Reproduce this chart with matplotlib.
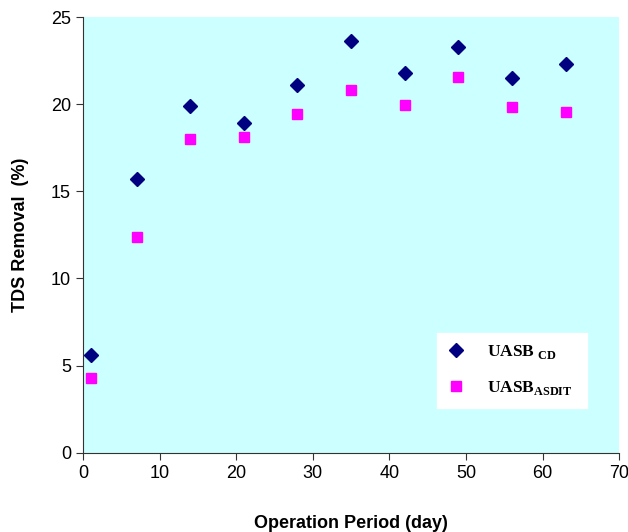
import matplotlib
matplotlib.use('Agg')
import matplotlib.pyplot as plt

plt.rcParams['font.family'] = 'Liberation Sans'
plt.rcParams['mathtext.fontset'] = 'custom'
plt.rcParams['mathtext.bf'] = 'Liberation Serif:bold'
plt.rcParams['mathtext.rm'] = 'Liberation Serif:bold'

days = [1, 7, 14, 21, 28, 35, 42, 49, 56, 63]
uasb_cd = [5.6, 15.7, 19.9, 18.9, 21.1, 23.6, 21.8, 23.3, 21.5, 22.3]
uasb_asdit = [4.3, 12.4, 18.0, 18.1, 19.45, 20.8, 19.95, 21.55, 19.85, 19.55]

fig = plt.figure(figsize=(6.28, 5.32), dpi=100)
ax = fig.add_axes([0.132, 0.149, 0.854, 0.819])
ax.set_facecolor('#ccffff')

ax.plot(days, uasb_cd, 'D', color='#000080', markersize=7, label=r'$\mathbf{UASB}_{\ \mathbf{CD}}$')
ax.plot(days, uasb_asdit, 's', color='#ff00ff', markersize=7.5, label=r'$\mathbf{UASB}_{\mathbf{ASDIT}}$')

ax.set_xlim(0, 70)
ax.set_ylim(0, 25)
ax.set_xticks(range(0, 71, 10))
ax.set_yticks(range(0, 26, 5))

for s in ['top', 'right']:
    ax.spines[s].set_visible(False)
for s in ['left', 'bottom']:
    ax.spines[s].set_color('#333333')
ax.tick_params(direction='out', length=5, color='#333333', labelsize=13)

ax.set_xlabel('Operation Period (day)', fontsize=13, fontweight='bold', labelpad=24)
ax.set_ylabel('TDS Removal  (%)', fontsize=13, fontweight='bold', labelpad=16)

leg = ax.legend(loc='lower left', bbox_to_anchor=(0.66, 0.103, 0.28, 0.174), mode='expand',
                borderaxespad=0, fontsize=12.5, frameon=True, fancybox=False,
                edgecolor='white', framealpha=1, handletextpad=1.3,
                labelspacing=1.05, borderpad=0.6, handlelength=1.0)

fig.savefig('out.png', dpi=100)
